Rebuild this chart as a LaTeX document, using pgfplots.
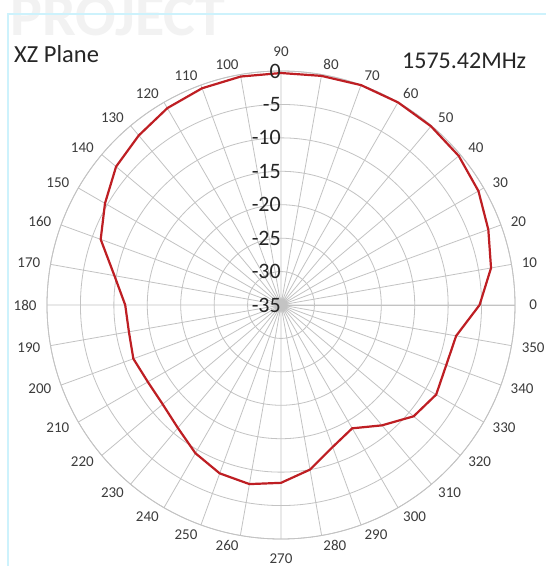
\documentclass[border=0pt]{standalone}
\usepackage{pgfplots}
\pgfplotsset{compat=1.18}
\usepgfplotslibrary{polar}
\usepackage{pgfplotstable}
\usepackage{fontspec}
\setmainfont{Carlito}
\definecolor{trace}{RGB}{190,30,35}
\definecolor{gridc}{RGB}{195,195,195}
\definecolor{lab}{RGB}{60,60,60}
\definecolor{framec}{RGB}{205,242,252}
\pgfplotstableread{
a db
0 -5.3
10 -3.1
20 -2.0
30 -0.9
40 -0.3
50 -0.1
60 0
70 0
80 -0.2
90 -0.3
100 -0.3
110 -0.5
120 -1.0
130 -1.9
140 -2.8
150 -4.6
160 -6.3
170 -9.7
180 -11.7
190 -11.9
200 -11.5
210 -12.0
220 -11.9
230 -11.0
240 -9.4
250 -8.2
260 -7.8
270 -8.4
280 -10.0
290 -12.4
300 -13.7
310 -11.5
320 -9.1
330 -8.2
340 -8.7
350 -8.4
360 -5.3
}\pattern
\pgfplotstablecreatecol[expr={\thisrow{db}+35}]{r}\pattern
\tikzset{rlab/.style={anchor=east, inner sep=0pt, text=black!85, font=\fontsize{22}{22}\selectfont}}
\begin{document}
\begin{tikzpicture}
\useasboundingbox (0pt,0pt) rectangle (546pt,566pt);
\fill[white] (0pt,0pt) rectangle (546pt,566pt);
\node[anchor=base west, text=black!5, font=\bfseries\fontsize{60}{60}\selectfont, inner sep=0pt] at (10pt,530pt) {PROJECT};
\draw[framec, line width=1.5pt] (8pt,-5pt) -- (8pt,552pt) -- (560pt,552pt);
\begin{polaraxis}[
  at={(281pt,261pt)}, anchor=center,
  width=468pt, height=468pt, scale only axis,
  xmin=0, xmax=360, ymin=0, ymax=35,
  xtick={0,10,...,350},
  ytick={0,5,...,35},
  yticklabels={},
  xticklabel style={font=\fontsize{15}{15}\selectfont, text=lab, anchor=center, inner sep=0pt, outer sep=0pt,
    xshift={10.5*cos(10*\ticknum) + (7.6+3.8*(\ticknum>9))*((cos(10*\ticknum)>0.05)-(cos(10*\ticknum)<-0.05))},
    yshift={(10.5+9*(abs(cos(10*\ticknum))<0.05))*sin(10*\ticknum)}},
  xticklabels={0,10,20,30,40,50,60,70,80,90,100,110,120,130,140,150,160,170,180,190,200,210,220,230,240,250,260,270,280,290,300,310,320,330,340,350},
  grid=major,
  major grid style={gridc, line width=0.8pt},
  axis line style={gridc, line width=0.8pt},
  major tick length=0pt,
  clip=false,
]
\addplot[trace, line width=2.2pt] table[x=a, y=r] {\pattern};
\node[rlab] at (axis cs:90,35) {0};
\node[rlab] at (axis cs:90,30) {-5};
\node[rlab] at (axis cs:90,25) {-10};
\node[rlab] at (axis cs:90,20) {-15};
\node[rlab] at (axis cs:90,15) {-20};
\node[rlab] at (axis cs:90,10) {-25};
\node[rlab] at (axis cs:90,5) {-30};
\node[rlab] at (axis cs:90,0) {-35};
\end{polaraxis}
\node[anchor=base west, inner sep=0pt, font=\fontsize{24.5}{24.5}\selectfont, text=black!85] at (14pt,503.5pt) {XZ Plane};
\node[anchor=base west, inner sep=0pt, font=\fontsize{24}{24}\selectfont, text=black!85] at (402pt,497.5pt) {1575.42MHz};
\end{tikzpicture}
\end{document}
